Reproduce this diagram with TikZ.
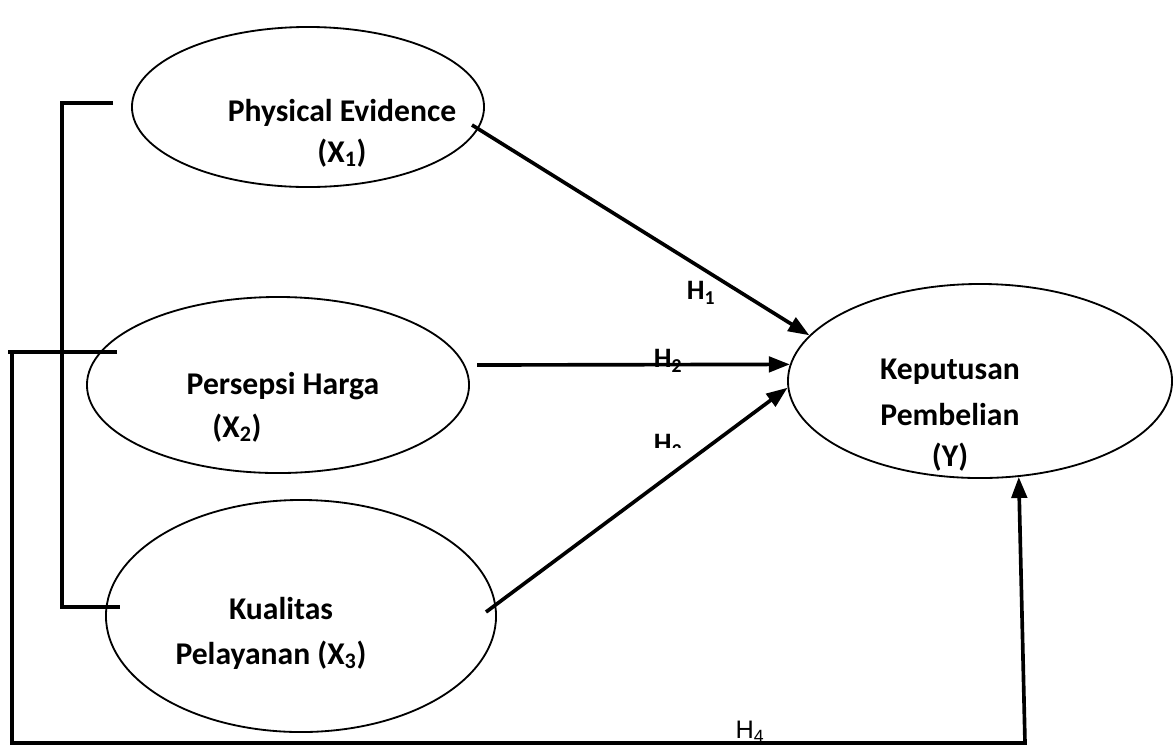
\documentclass[tikz,border=0pt]{standalone}
\usepackage{fontspec}
\setmainfont{Carlito}
\newfontfamily\arialfont{Liberation Sans}
\usetikzlibrary{shapes.geometric,arrows.meta}
\begin{document}
\begin{tikzpicture}[x=0.025cm,y=-0.025cm,
  ell/.style={draw,ellipse,line width=1.3pt,inner sep=0pt},
  lbl/.style={font=\fontsize{22.5}{26}\selectfont\bfseries,inner sep=0pt},
  hlbl/.style={font=\fontsize{20}{24}\selectfont\bfseries,inner sep=0pt},
  arr/.style={line width=2.6pt,-{Triangle[length=15pt,width=11pt]}},
  brk/.style={line width=2.2pt}]
\useasboundingbox (0,0) rectangle (1176,746);
\clip (0,0) rectangle (1176,746);
% ellipses
\node[ell,minimum width=8.8cm,minimum height=4cm] (X1) at (308,107) {};
\node[ell,minimum width=9.55cm,minimum height=4.4cm] (X2) at (278,385) {};
\node[ell,minimum width=9.75cm,minimum height=5.8cm] (X3) at (301,616) {};
\node[ell,minimum width=9.6cm,minimum height=4.85cm] (Y) at (980,381) {};
% texts
\node[lbl] (t1a) at (342,113) {Physical Evidence};
\node[lbl] (t1b) at (342,153) {(X\textsubscript{1})};
\node[lbl] (t2a) at (283,386) {Persepsi Harga};
\node[lbl] (t2b) at (237,428) {(X\textsubscript{2})};
\node[lbl] (t3a) at (281,608) {Kualitas};
\node[lbl] (t3b) at (271,655) {Pelayanan (X\textsubscript{3})};
\node[lbl] (tya) at (950,372) {Keputusan};
\node[lbl] (tyb) at (950,415) {Pembelian};
\node[lbl] (tyc) at (950,457) {(Y)};
% hypothesis labels
\node[hlbl] (H1) at (701,293) {H\textsubscript{1}};
\node[hlbl] (H2) at (668,361) {H\textsubscript{2}};
\begin{scope}
  \clip (600,400) rectangle (760,447);
  \node[hlbl] (H3) at (668,446) {H\textsubscript{3}};
\end{scope}
\node[font=\arialfont\fontsize{18}{20}\selectfont,inner sep=0pt] (H4) at (750,732) {H\textsubscript{4}};
% arrows
\coordinate (h1s) at (472,125);
\coordinate (h2s) at (477,365);
\coordinate (h3s) at (486,612);
\draw[arr] (h1s) -- (Y.165);
\draw[arr] (h2s) -- (Y.175);
\draw[arr] (h3s) -- (Y.182);
% bracket
\coordinate (b1) at (113,103);
\coordinate (b2) at (62,103);
\coordinate (b3) at (62,607);
\coordinate (b4) at (120,607);
\draw[brk] (b1) -- (b2) -- (b3) -- (b4);
\coordinate (c0) at (117,352);
\coordinate (c1) at (12,352);
\coordinate (c2) at (12,743);
\coordinate (c3) at (1025,743);
\coordinate (c1l) at (8,352);
\draw[brk] (c0) -- (c1l);
\draw[arr] (c1) -- (c2) -- (c3) -- (Y.292);
\end{tikzpicture}
\end{document}
